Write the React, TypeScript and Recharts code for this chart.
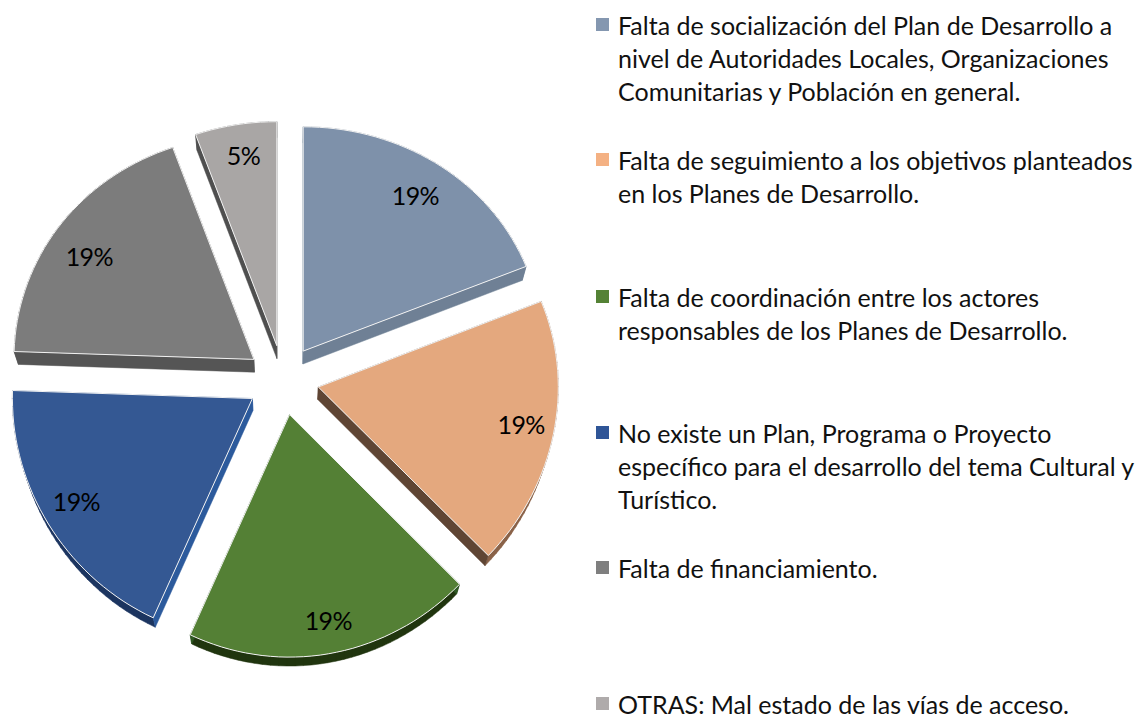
import { Legend, Pie, PieChart } from 'recharts';

const legendLines: string[][] = [
    ['Falta de socialización del Plan de Desarrollo a', 'nivel de Autoridades Locales, Organizaciones', 'Comunitarias y Población en general.'],
    ['Falta de seguimiento a los objetivos planteados', 'en los Planes de Desarrollo.'],
    ['Falta de coordinación entre los actores', 'responsables de los Planes de Desarrollo.'],
    ['No existe un Plan, Programa o Proyecto', 'específico para el desarrollo del tema Cultural y', 'Turístico.'],
    ['Falta de financiamiento.'],
    ['OTRAS: Mal estado de las vías de acceso.'],
];
const values = [18.95, 18.5, 19.3, 18.75, 18.95, 5.49];

const topColors = ['#7e91aa', '#e4a87e', '#548035', '#345893', '#7c7c7c', '#a9a6a5'];
const edgeColors = ['#6f8095', '#5f4534', '#2f5a24', '#2c5a9c', '#555555', '#4f4f4f'];
const rimColors = ['#6f8095', '#8a6248', '#20350f', '#1c3560', '#555555', '#4f4f4f'];
const swatchColors = ['#8497b0', '#f4b183', '#548235', '#2f5597', '#7f7f7f', '#afabab'];
const legendTops = [14, 149, 286, 422, 557, 693];
const labelNudge = [[0, 0], [7, -2], [3, 8], [-6, -2], [-3, 9], [1, -6]];

const pieData = values.map((value, i) => ({
    name: legendLines[i].join(' '),
    value,
    fill: topColors[i],
    edge: edgeColors[i],
    rim: rimColors[i],
}));

const EXPLODE = 36;
const RAD = Math.PI / 180;

// slight tilt, the original is a perspective 3D pie
const project = (cx: number, cy: number, dx: number, dy: number): [number, number] => [
    cx + dx,
    cy + 0.972 * dy + 0.000124 * dy * dy,
];

const toPath = (pts: [number, number][]) =>
    pts.map((p, i) => `${i ? 'L' : 'M'}${p[0].toFixed(1)},${p[1].toFixed(1)}`).join(' ') + ' Z';

const SliceShape = (props: any) => {
    const { cx, cy, outerRadius, startAngle, endAngle, midAngle, fill } = props;
    const edge = props.payload?.edge ?? props.edge;
    const rim = props.payload?.rim ?? props.rim;
    const ox = EXPLODE * Math.cos(-midAngle * RAD);
    const oy = EXPLODE * Math.sin(-midAngle * RAD);

    const arc: [number, number][] = [];
    const steps = Math.ceil(Math.abs(endAngle - startAngle) / 2);
    for (let i = 0; i <= steps; i++) {
        const a = startAngle + ((endAngle - startAngle) * i) / steps;
        arc.push([ox + outerRadius * Math.cos(-a * RAD), oy + outerRadius * Math.sin(-a * RAD)]);
    }
    const apex: [number, number] = [ox, oy];

    const top = (p: [number, number]) => project(cx, cy, p[0], p[1]);
    const bottom = (p: [number, number]) => {
        const q = top(p);
        return [q[0] - p[0] * 0.016, q[1] + 12.5 - (3.5 * p[1]) / 270] as [number, number];
    };
    const quad = (a: [number, number], b: [number, number]) => toPath([top(a), top(b), bottom(b), bottom(a)]);

    const rimPath = arc.slice(1).map((p, i) => quad(arc[i], p)).join(' ');

    return (
        <g>
            <path d={rimPath} fill={rim} stroke={rim} strokeWidth={0.5} />
            {/* separate paths, they overlap at the apex and would cancel out in one */}
            <path d={quad(apex, arc[0])} fill={edge} stroke={edge} strokeWidth={0.5} />
            <path d={quad(arc[arc.length - 1], apex)} fill={edge} stroke={edge} strokeWidth={0.5} />
            <path d={toPath([apex, ...arc].map(top))} fill={fill} stroke="#f2f2f2" strokeWidth={1} strokeLinejoin="round" />
        </g>
    );
};

const renderLabel = (props: any) => {
    const { cx, cy, midAngle, percent, index } = props;
    const ox = (EXPLODE + 200) * Math.cos(-midAngle * RAD);
    const oy = (EXPLODE + 200) * Math.sin(-midAngle * RAD);
    const [x, y] = project(cx, cy, ox, oy);
    return (
        <text
            x={x + labelNudge[index][0]}
            y={y + labelNudge[index][1]}
            textAnchor="middle"
            dominantBaseline="central"
            fill="#000000"
            fontFamily="Lato"
            fontSize={25}
            letterSpacing={-0.6}
        >
            {`${Math.round(percent * 100)}%`}
        </text>
    );
};

const LegendContent = () => (
    <div style={{ position: 'relative', width: 1140, height: 715 }}>
        {legendLines.map((lines, i) => (
            <div key={i} style={{ position: 'absolute', left: 596, top: legendTops[i] }}>
                <div style={{ position: 'absolute', left: 0, top: 4, width: 13, height: 13, background: swatchColors[i] }} />
                {lines.map((line, j) => (
                    <div
                        key={line}
                        style={{
                            marginLeft: 22,
                            marginBottom: j < lines.length - 1 ? 11 : 0,
                            whiteSpace: 'nowrap',
                            fontFamily: 'Lato',
                            fontSize: 25,
                            lineHeight: '22px',
                            color: '#111111',
                        }}
                    >
                        {line}
                    </div>
                ))}
            </div>
        ))}
    </div>
);

export default function App() {
    return (
        <div style={{ position: 'absolute', left: 0, top: 0, width: 1140, height: 715, background: '#ffffff', overflow: 'hidden' }}>
            <PieChart width={1140} height={715} margin={{ top: 0, right: 0, bottom: 0, left: 0 }}>
                <Pie
                    data={pieData}
                    dataKey="value"
                    nameKey="name"
                    cx={283}
                    cy={380}
                    outerRadius={240}
                    startAngle={90}
                    endAngle={-270}
                    shape={SliceShape}
                    label={renderLabel}
                    labelLine={false}
                    isAnimationActive={false}
                />
                <Legend content={<LegendContent />} wrapperStyle={{ left: 0, top: 0, width: 1140, height: 715 }} />
            </PieChart>
        </div>
    );
}
